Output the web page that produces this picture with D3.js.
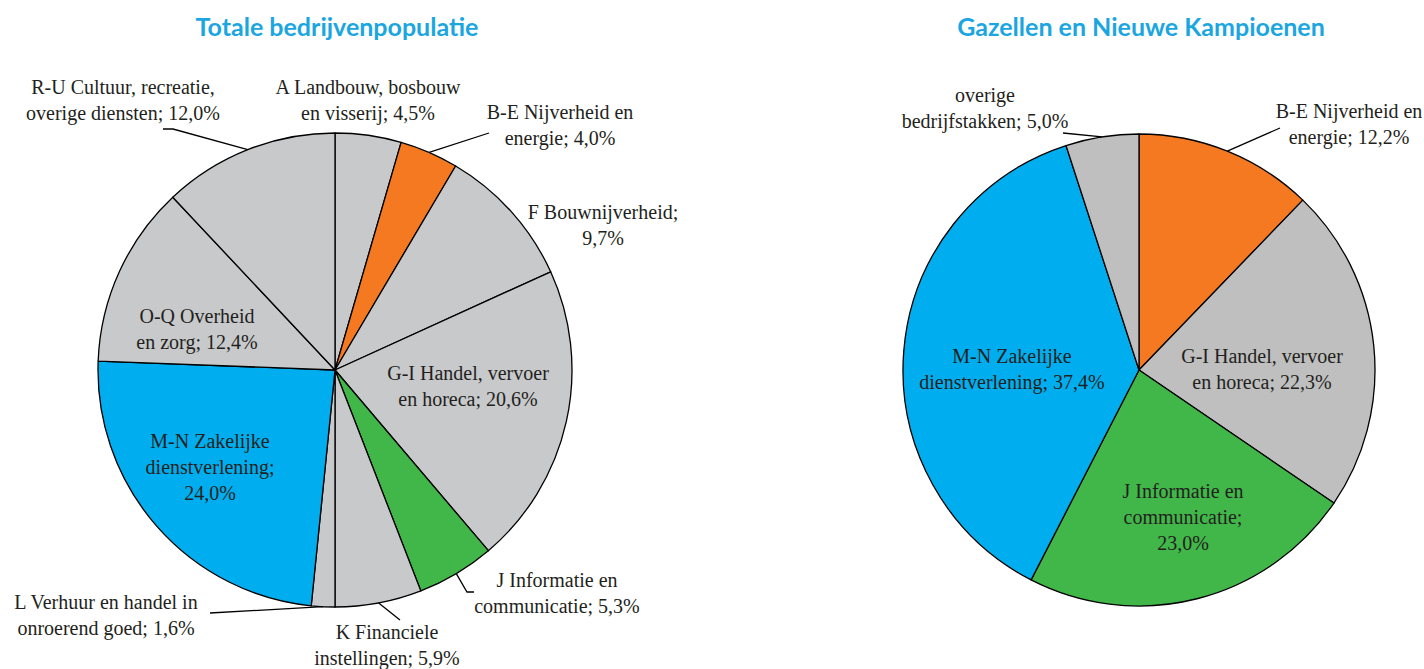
<!DOCTYPE html>
<html>
<head>
<meta charset="utf-8">
<script src="https://cdn.jsdelivr.net/npm/d3@7"></script>
<style>
  body { margin: 0; background: #fff; }
  svg { display: block; }
  .lbl { font-family: "Liberation Serif", serif; font-size: 20px; fill: #231f20; }
  .title { font-family: Lato, sans-serif; font-weight: bold; font-size: 25px; fill: #1ba6e2; }
</style>
</head>
<body>
<svg width="1424" height="669"></svg>
<script>
// left pie: total population, clockwise from 12 o'clock
var totalCats = ['A', 'B-E', 'F', 'G-I', 'J', 'K', 'L', 'M-N', 'O-Q', 'R-U'];
var totalValues = [4.5, 4.0, 9.7, 20.6, 5.3, 5.9, 1.6, 24.0, 12.4, 12.0];
var totalLabels = [
    ['A Landbouw, bosbouw', 'en visserij; 4,5%'],
    ['B-E Nijverheid en', 'energie; 4,0%'],
    ['F Bouwnijverheid;', '9,7%'],
    ['G-I Handel, vervoer', 'en horeca; 20,6%'],
    ['J Informatie en', 'communicatie; 5,3%'],
    ['K Financiele', 'instellingen; 5,9%'],
    ['L Verhuur en handel in', 'onroerend goed; 1,6%'],
    ['M-N Zakelijke', 'dienstverlening;', '24,0%'],
    ['O-Q Overheid', 'en zorg; 12,4%'],
    ['R-U Cultuur, recreatie,', 'overige diensten; 12,0%']
];

// right pie: gazelles
var gazCats = ['B-E', 'G-I', 'J', 'M-N', 'overig'];
var gazValues = [12.2, 22.3, 23.0, 37.4, 5.0];
var gazLabels = [
    ['B-E Nijverheid en', 'energie; 12,2%'],
    ['G-I Handel, vervoer', 'en horeca; 22,3%'],
    ['J Informatie en', 'communicatie;', '23,0%'],
    ['M-N Zakelijke', 'dienstverlening; 37,4%'],
    ['overige', 'bedrijfstakken; 5,0%']
];

var titles = ['Totale bedrijvenpopulatie', 'Gazellen en Nieuwe Kampioenen'];

// colours per sector
function sectorColor(cat, chart) {
    if (cat == 'B-E') return '#f47920';
    if (cat == 'J') return '#41b649';
    if (cat == 'M-N') return '#00aeef';
    return chart == 0 ? '#c8c9cb' : '#bfbfbf';
}

// label placement: x,y = centre of first text line (relative to pie centre)
// lead = leader line: outer points, pie end is computed at slice middle
var totalLayout = {
    'A': { x: 33, y: -283 },
    'B-E': { x: 225, y: -258, lead: [[154, -237]] },
    'F': { x: 268, y: -158 },
    'G-I': { x: 133, y: 3 },
    'J': { x: 222, y: 210, lead: [[132, 222], [139, 222]] },
    'K': { x: 52, y: 262, lead: [[65, 250]] },
    'L': { x: -229, y: 232, lead: [[-125, 243]] },
    'M-N': { x: -125, y: 71 },
    'O-Q': { x: -138, y: -54 },
    'R-U': { x: -212, y: -283, lead: [[-162, -241], [-172, -241]] }
};
var gazLayout = {
    'B-E': { x: 210, y: -259, lead: [[141, -242]] },
    'G-I': { x: 123, y: -14 },
    'J': { x: 44, y: 121 },
    'M-N': { x: -127, y: -14 },
    'overig': { x: -154, y: -275, lead: [[-76, -237]] }
};

var svg = d3.select('svg');

function drawPie(cats, values, labels, layout, cx, cy, r, idx) {
    var g = svg.append('g').attr('transform', 'translate(' + cx + ',' + cy + ')');
    var pie = d3.pie().sort(null).value(function (d) { return d; });
    var arcs = pie(values);
    var arc = d3.arc().innerRadius(0).outerRadius(r);

    g.selectAll('path.slice')
        .data(arcs)
        .enter()
        .append('path')
        .attr('class', 'slice')
        .attr('d', arc)
        .attr('fill', function (d, i) { return sectorColor(cats[i], idx); })
        .attr('stroke', '#000')
        .attr('stroke-width', 1.3)
        .attr('stroke-linejoin', 'round');

    arcs.forEach(function (d, i) {
        var lay = layout[cats[i]];
        if (lay.lead) {
            var mid = (d.startAngle + d.endAngle) / 2;
            var pts = [[r * Math.sin(mid), -r * Math.cos(mid)]].concat(lay.lead);
            g.append('path')
                .attr('d', d3.line()(pts))
                .attr('fill', 'none')
                .attr('stroke', '#000')
                .attr('stroke-width', 1.3);
        }
        var t = g.append('text')
            .attr('class', 'lbl')
            .attr('text-anchor', 'middle');
        labels[i].forEach(function (line, j) {
            t.append('tspan')
                .attr('x', lay.x)
                .attr('y', lay.y + j * 26)
                .attr('dy', '0.35em')
                .text(line);
        });
    });

    svg.append('text')
        .attr('class', 'title')
        .attr('x', cx + 2)
        .attr('y', 27)
        .attr('dy', '0.35em')
        .attr('text-anchor', 'middle')
        .text(titles[idx]);
}

drawPie(totalCats, totalValues, totalLabels, totalLayout, 335, 370, 237, 0);
drawPie(gazCats, gazValues, gazLabels, gazLayout, 1139, 370, 236, 1);
</script>
</body>
</html>
